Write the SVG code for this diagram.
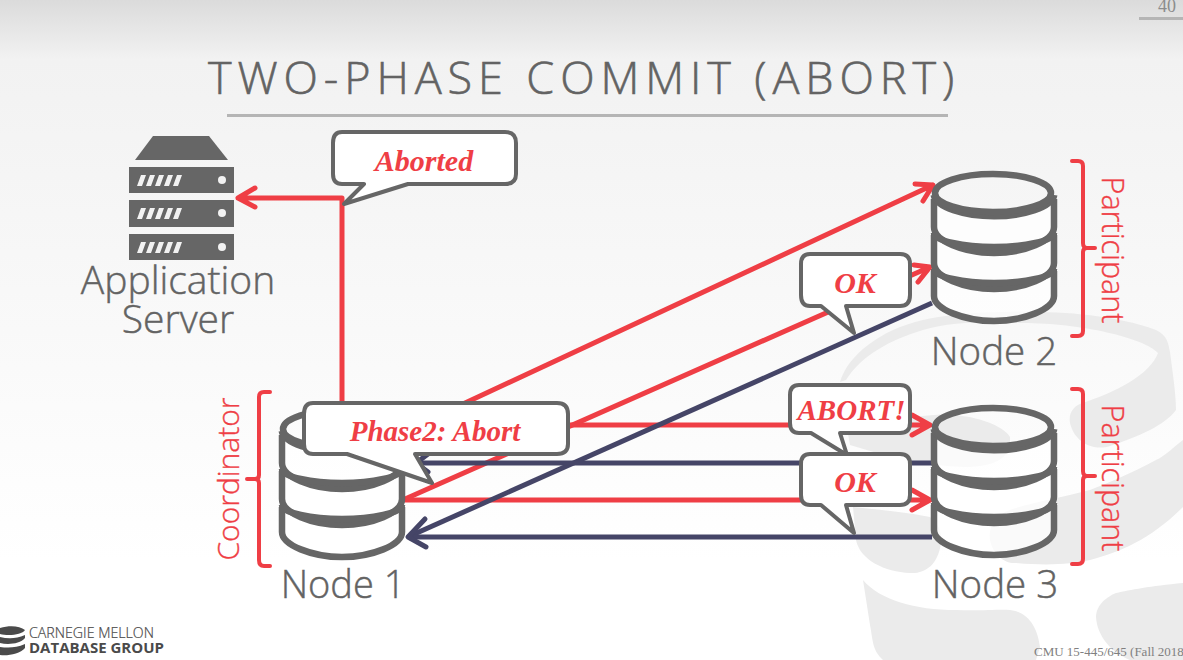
<svg xmlns="http://www.w3.org/2000/svg" width="1183" height="660" viewBox="0 0 1183 660">
<style>
.lab{font-family:"Open Sans","Noto Sans",sans-serif;font-weight:300;fill:#636363;stroke:#636363;stroke-width:.45}
.red{font-family:"Open Sans","Noto Sans",sans-serif;font-weight:300;fill:#ef3e45;stroke:#ef3e45;stroke-width:.35;font-size:30.5px}
.say{font-family:"Liberation Serif",serif;font-weight:bold;font-style:italic;fill:#ef3e45;text-anchor:middle}
.bub{fill:#ffffff;stroke:#666666;stroke-width:4;stroke-linejoin:round}
.r{stroke:#ef3e45;stroke-width:5;fill:none;stroke-linecap:round;stroke-linejoin:round}
.b{stroke:#454567;stroke-width:5;fill:none;stroke-linejoin:round}
.brk{stroke:#ef3e45;stroke-width:4;fill:none;stroke-linecap:round;stroke-linejoin:round}
.wm{fill:#ebebeb}
.d{fill:#666666}
</style>
<defs>
<linearGradient id="bg" x1="0" y1="0" x2="0" y2="1">
<stop offset="0" stop-color="#dbdbdb"/><stop offset="0.09" stop-color="#f2f2f2"/><stop offset="0.85" stop-color="#ffffff"/>
</linearGradient>
<g id="db" fill="none" stroke="#666666" stroke-width="6.5">
<path stroke="none" fill="#ffffff" fill-opacity=".72" d="M-60,28A60 18 0 0 0 60 28V128C60,140 30,149 0,149C-30,149 -60,140 -60,128Z"/>
<path d="M-60,100V125C-60,138 -30,150 0,150C30,150 60,138 60,125V100"/>
<path d="M-60,64V92C-60,106 -30,118 0,118C30,118 60,106 60,92V64"/>
<path d="M-60,28V56C-60,70 -30,82 0,82C30,82 60,70 60,56V28"/>
<path d="M-60,62C-60,70 -30,76 0,76C30,76 60,70 60,62M-60,98C-60,106 -30,112 0,112C30,112 60,106 60,98"/>
<path stroke-width="7" d="M-60,24C-58,36 -30,45 0,45C30,45 58,36 60,24"/>
<ellipse cx="-1" cy="22" rx="58" ry="19"/>
</g>
<path id="st" d="M4,0h5l-4,11h-5zM13,0h5l-4,11h-5zM22,0h5l-4,11h-5zM31,0h5l-4,11h-5zM40,0h5l-4,11h-5z"/>
</defs>
<rect width="1183" height="660" fill="url(#bg)"/>
<g id="watermark">
<path class="wm" d="M840,382C848,355 880,330 923,320C960,312 1000,312 1006,312C1050,311 1110,313 1156,330C1168,336 1168,343 1170,352C1173,375 1176,395 1176,410C1165,425 1140,436 1110,446C1095,451 1075,444 1070,423C1068,412 1075,405 1083,403C1115,392 1150,375 1158,353C1145,338 1080,323 1023,323C990,321 950,322 923,330C890,340 862,355 846,380Z"/>
<path class="wm" d="M848,434C880,422 930,412 955,415C985,418 1005,428 1010,437C1011,456 1000,466 966,467C925,466 885,456 850,445Z"/>
<path class="wm" d="M1183,440C1170,450 1165,456 1156,460C1130,474 1110,482 1090,490C1060,498 1030,503 1010,510C995,515 988,528 990,540C993,555 1005,564 1016,563C1050,566 1070,564 1090,560C1120,552 1150,540 1183,507Z"/>
<path class="wm" d="M853,507C880,510 905,512 930,517C940,525 942,535 941,543C938,565 925,574 910,573C885,572 860,560 856,540Z"/>
<path class="wm" d="M863,580C880,600 915,610 956,610C980,611 1000,609 1010,610C1030,612 1038,630 1040,647L1036,660H883C872,650 873,640 870,625Z"/>
<path class="wm" d="M1183,583C1150,586 1130,590 1116,593C1100,600 1096,610 1096,617C1097,635 1110,652 1130,660H1183Z"/>
</g>
<g id="header">
<text x="584" y="94" class="lab" font-size="45" letter-spacing="5.9" text-anchor="middle" style="stroke-width:.6">TWO-PHASE COMMIT (ABORT)</text>
<rect x="227" y="114" width="721" height="3" fill="#b5b5b5"/>
<text x="1167" y="12" font-family="Liberation Serif,serif" font-size="18" fill="#8c8c8c" text-anchor="middle">40</text>
<rect x="1139" y="17" width="44" height="3" fill="#b5b5b5"/>
</g>
<g id="connectors">
<path class="r" d="M342,420V198H238M255,188L238,198L255,207"/>
<path class="r" d="M420,424L933,185M915,184L933,185L923,201"/>
<path class="r" d="M405,499L930,267M914,265L930,267L918,282"/>
<path class="r" d="M404,425H930M912,415L930,425L912,435"/>
<path class="r" d="M404,500H930M912,490L930,500L912,510"/>
<path class="b" d="M932,303L410,536"/>
<path class="b" d="M932,463H418"/>
<path class="b" d="M932,537H410"/>
<path class="b" stroke-linecap="round" d="M425,519L408,537L426,547"/>
<path class="b" stroke-linecap="round" d="M428,454L416,463L428,472"/>
</g>
<g id="app-server">
<polygon class="d" points="135,160 153,136 209,136 228,160"/>
<rect class="d" x="129" y="167" width="105" height="26"/><rect class="d" x="129" y="200" width="105" height="27"/><rect class="d" x="129" y="234" width="105" height="26"/>
<g fill="#f2f2f2"><circle cx="222" cy="180" r="4"/><circle cx="222" cy="213" r="4"/><circle cx="222" cy="247" r="4"/>
<use href="#st" x="137" y="175"/><use href="#st" x="137" y="208"/><use href="#st" x="137" y="242"/></g>
<text class="lab" font-size="39" text-anchor="middle" x="178" y="294">Application</text>
<text class="lab" font-size="39" text-anchor="middle" x="178" y="333">Server</text>
</g>
<g id="node1"><use href="#db" x="342" y="407"/><text class="lab" font-size="38" text-anchor="middle" x="343" y="598">Node 1</text></g>
<g id="node2"><use href="#db" x="994" y="171"/><text class="lab" font-size="38.5" text-anchor="middle" x="994" y="365">Node 2</text></g>
<g id="node3"><use href="#db" x="994" y="405"/><text class="lab" font-size="38.5" text-anchor="middle" x="995" y="598">Node 3</text></g>
<g id="brackets">
<path class="brk" d="M270,392H264Q259,392 259,397V475Q259,479 255,479H247M255,479Q259,479 259,483V560Q259,566 264,566H270"/>
<text class="red" transform="translate(239,479) rotate(-90)" text-anchor="middle" style="font-size:30px">Coordinator</text>
<path class="brk" d="M1072,161H1078Q1083,161 1083,166V243Q1083,248 1087,248H1095M1087,248Q1083,248 1083,252V331Q1083,336 1078,336H1072"/>
<text class="red" transform="translate(1102,250) rotate(90)" text-anchor="middle">Participant</text>
<path class="brk" d="M1072,389H1078Q1083,389 1083,394V471Q1083,476 1087,476H1095M1087,476Q1083,476 1083,480V559Q1083,564 1078,564H1072"/>
<text class="red" transform="translate(1102,478) rotate(90)" text-anchor="middle">Participant</text>
</g>
<g id="bubble-aborted"><path class="bub" d="M342,132H505Q516,132 516,143V174Q516,184 505,184H408L344,204L364,184H342Q333,184 333,174V143Q333,132 342,132Z"/><text class="say" font-size="30" x="424" y="171">Aborted</text></g>
<g id="bubble-phase2"><path class="bub" d="M313,403H557Q568,403 568,414V444Q568,454 557,454H415L432,483L347,454H313Q304,454 304,444V414Q304,403 313,403Z"/><text class="say" font-size="29" x="435" y="441">Phase2: Abort</text></g>
<g id="bubble-ok1"><path class="bub" d="M810,254H900Q910,254 910,264V295Q910,306 900,306H846L854,333L821,306H810Q801,306 801,295V264Q801,254 810,254Z"/><text class="say" font-size="30" x="855" y="293">OK</text></g>
<g id="bubble-abort"><path class="bub" d="M799,385H900Q910,385 910,395V423Q910,433 900,433H840L847,455L811,433H799Q790,433 790,423V395Q790,385 799,385Z"/><text class="say" font-size="29" x="851.5" y="420">ABORT!</text></g>
<g id="bubble-ok2"><path class="bub" d="M810,454H900Q910,454 910,464V495Q910,505 900,505H846L854,533L821,505H810Q801,505 801,495V464Q801,454 810,454Z"/><text class="say" font-size="30" x="855" y="492">OK</text></g>
<g id="logo">
<path fill="#4a4a4a" d="M0,628C10,625 20,626 25,630C22,635 8,636 0,634ZM0,637C8,639 16,639 25,635V638C20,644 8,645 0,643ZM0,647C8,648 16,648 25,644V648C20,654 8,656 0,655Z"/>
<text x="29" y="638" font-family="Open Sans,sans-serif" font-size="14.2" font-weight="300" fill="#4a4a4a" stroke="#4a4a4a" stroke-width=".2">CARNEGIE MELLON</text>
<text x="29" y="653" font-family="Open Sans,sans-serif" font-size="15" font-weight="700" fill="#4a4a4a">DATABASE GROUP</text>
</g>
<text x="1034" y="656" font-family="Liberation Serif,serif" font-size="13" fill="#808080">CMU 15-445/645 (Fall 2018)</text>
</svg>
